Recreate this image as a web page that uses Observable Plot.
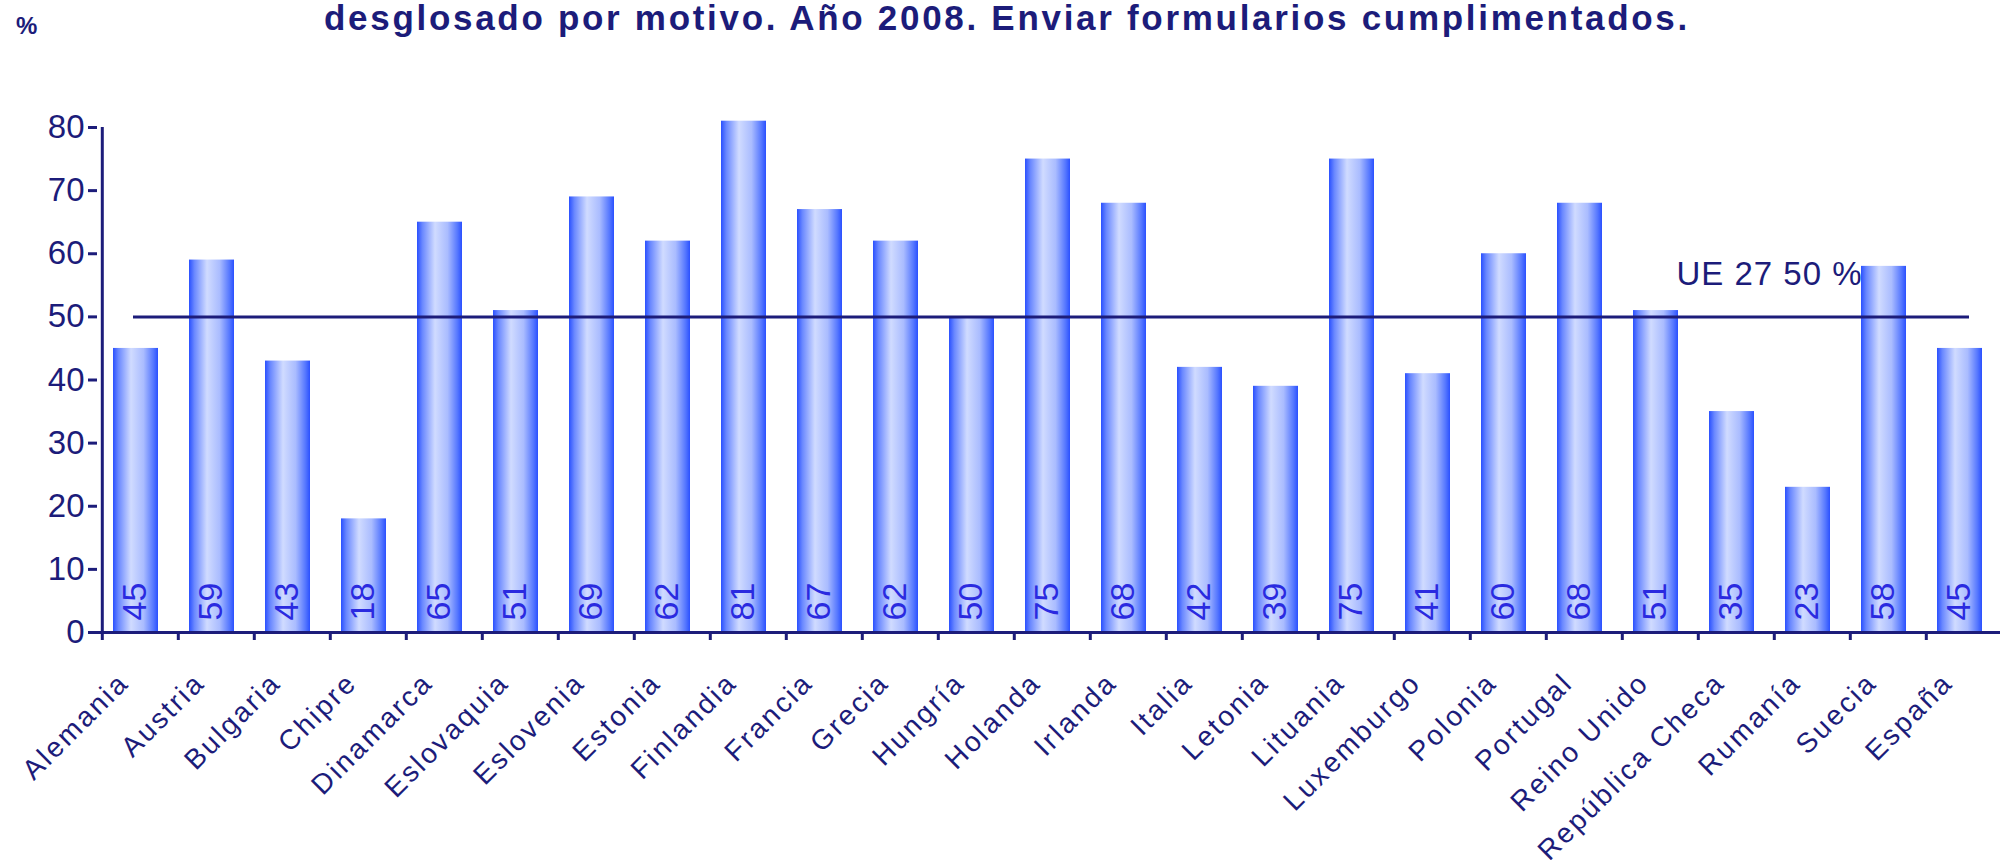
<!DOCTYPE html>
<html><head><meta charset="utf-8">
<script src="https://cdn.jsdelivr.net/npm/d3@7"></script>
<script src="https://cdn.jsdelivr.net/npm/@observablehq/plot@0.6"></script>
<style>
body{margin:0;background:#fff;font-family:"Liberation Sans",Arial,sans-serif;}
#head{position:relative;height:48px;width:2000px;}
#title{position:absolute;left:324px;top:-2px;font-size:35px;font-weight:bold;color:#1c1c7a;letter-spacing:2.7px;white-space:nowrap;line-height:40px;}
#pct{position:absolute;left:16px;top:12px;font-size:24px;font-weight:bold;color:#1c1c7a;}
</style></head><body>
<div id="head"><span id="pct">%</span><span id="title">desglosado por motivo. Año 2008. Enviar formularios cumplimentados.</span></div>
<div id="chart"></div>
<script>
const countries = ["Alemania","Austria","Bulgaria","Chipre","Dinamarca","Eslovaquia","Eslovenia","Estonia","Finlandia","Francia","Grecia","Hungría","Holanda","Irlanda","Italia","Letonia","Lituania","Luxemburgo","Polonia","Portugal","Reino Unido","República Checa","Rumanía","Suecia","España"];
const values = [45,59,43,18,65,51,69,62,81,67,62,50,75,68,42,39,75,41,60,68,51,35,23,58,45];
const euAverage = 50;
const euLabel = "UE 27 50 %";
const yTicks = [0,10,20,30,40,50,60,70,80];

const data = countries.map((c, i) => ({country: c, value: values[i]}));
const navy = "#1c1c7a";
const labelBlue = "#2a2ae0";
const xRange = [97, 2007];
const bw = (xRange[1] - xRange[0]) / countries.length;

const plot = Plot.plot({
  width: 2000, height: 812,
  marginLeft: 97, marginRight: 0, marginTop: 79, marginBottom: 228,
  style: {fontFamily: '"Liberation Sans", Arial, sans-serif', color: navy, background: "white", overflow: "visible"},
  x: {domain: countries, range: xRange, padding: 0},
  y: {domain: [0, 80]},
  marks: [
    Plot.barY(data, {x: "country", y: "value", fill: "url(#barGrad)", insetLeft: 11, insetRight: 20}),
    Plot.ruleY([euAverage], {x1: () => countries[0], x2: () => countries[countries.length - 1], insetLeft: 31, insetRight: 33, stroke: navy, strokeWidth: 3}),
    Plot.text([euLabel], {x: () => countries[countries.length - 2], y: () => euAverage, text: d => d, textAnchor: "end", dx: -26, dy: -42, fontSize: 33, fill: navy}),
    Plot.text(data, {x: "country", frameAnchor: "bottom", text: d => String(d.value), rotate: -90, textAnchor: "start", dx: 5, dy: -12, fontSize: 34, fill: labelBlue}),
    Plot.ruleY([0], {stroke: navy, strokeWidth: 3}),
    Plot.ruleX([countries[0]], {dx: -bw / 2, y1: 0, y2: 80, stroke: navy, strokeWidth: 3}),
    Plot.axisY({ticks: yTicks, tickSize: 9, tickPadding: 4, fontSize: 33, stroke: navy, strokeWidth: 3, fill: navy, label: null}),
    Plot.axisX({tickSize: 8, tickFormat: () => "", dx: -bw / 2, stroke: navy, strokeWidth: 3, label: null}),
    Plot.text(countries, {x: d => d, frameAnchor: "bottom", text: d => d, rotate: -45, textAnchor: "end", dx: -10, dy: 52, fontSize: 28, fill: navy})
  ]
});

const defs = document.createElementNS("http://www.w3.org/2000/svg", "defs");
defs.innerHTML = `<linearGradient id="barGrad" x1="0" x2="1" y1="0" y2="0">
  <stop offset="0" stop-color="#2a50ff"/>
  <stop offset="0.12" stop-color="#6a88ff"/>
  <stop offset="0.4" stop-color="#d0dbff"/>
  <stop offset="0.68" stop-color="#aabcff"/>
  <stop offset="0.9" stop-color="#5577ff"/>
  <stop offset="1" stop-color="#2a50ff"/>
</linearGradient>`;
plot.insertBefore(defs, plot.firstChild);
const countrySet = new Set(countries);
plot.querySelectorAll("text").forEach(t => {
  if (countrySet.has(t.textContent)) t.style.letterSpacing = "2.5px";
  if (t.textContent === euLabel) t.style.letterSpacing = "1px";
});
document.getElementById("chart").appendChild(plot);
</script>
</body></html>
